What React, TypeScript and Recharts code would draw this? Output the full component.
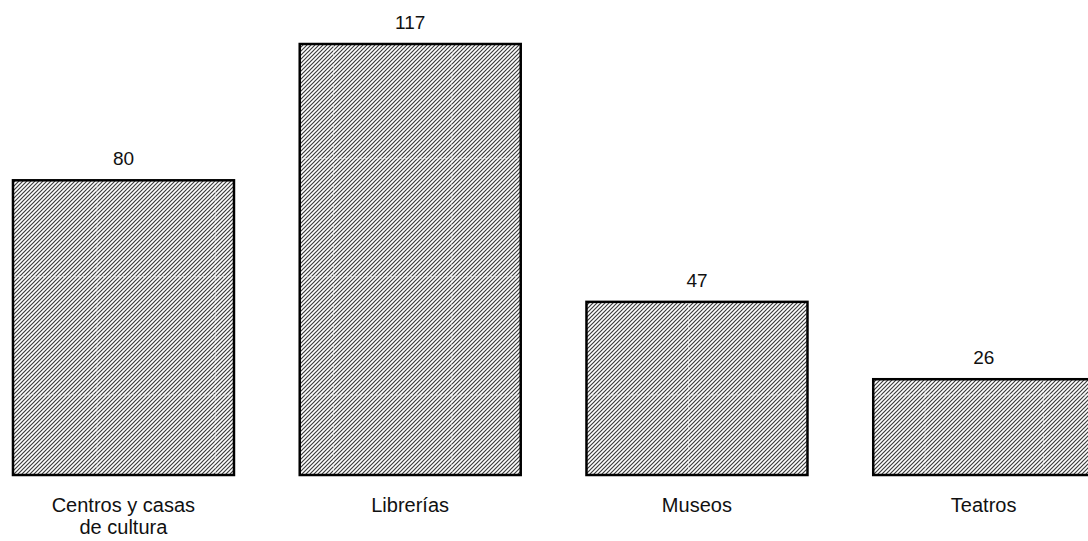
import { BarChart, Bar, XAxis, YAxis, LabelList } from 'recharts';

const categories = ['Centros y casas de cultura', 'Librerías', 'Museos', 'Teatros'];
const counts = [80, 117, 47, 26];

const data = categories.map((name, i) => ({ name, value: counts[i] }));

const FONT = 'Liberation Sans, Arial, sans-serif';

function wrap(label: string, maxChars = 16): string[] {
  const lines: string[] = [];
  let cur = '';
  for (const w of label.split(' ')) {
    const next = cur ? cur + ' ' + w : w;
    if (next.length > maxChars && cur) {
      lines.push(cur);
      cur = w;
    } else {
      cur = next;
    }
  }
  if (cur) lines.push(cur);
  return lines;
}

function CategoryTick({ x, y, payload }: { x?: number; y?: number; payload?: { value: string } }) {
  const lines = wrap(payload?.value ?? '');
  return (
    <text x={x} y={(y ?? 0) + 37} textAnchor="middle" fontSize={20} fontFamily={FONT} fill="#111">
      {lines.map((l, i) => (
        <tspan key={i} x={x} dy={i === 0 ? 0 : 22}>
          {l}
        </tspan>
      ))}
    </text>
  );
}

// background grid (white dashed, shows through the hatching), square ~118px cells
const GRID_STEP = 118.3;
const GRID_X0 = 117;
const GRID_Y0 = 395;

function HatchedBar(props: { x?: number; y?: number; width?: number; height?: number }) {
  const { x = 0, y = 0, width = 0, height = 0 } = props;
  const vs: number[] = [];
  for (let gx = GRID_X0; gx < x + width; gx += GRID_STEP) if (gx > x + 2) vs.push(gx);
  const hs: number[] = [];
  for (let gy = GRID_Y0; gy > y; gy -= GRID_STEP) if (gy < y + height - 2 && gy > y + 2) hs.push(gy);
  return (
    <g>
      <rect x={x} y={y} width={width} height={height} fill="url(#hatch)" />
      {vs.map((gx) => (
        <line key={'v' + gx} x1={gx} x2={gx} y1={y} y2={y + height} stroke="#fff" strokeOpacity={0.6} strokeWidth={1} strokeDasharray="3 2" />
      ))}
      {hs.map((gy) => (
        <line key={'h' + gy} x1={x} x2={x + width} y1={gy} y2={gy} stroke="#fff" strokeOpacity={0.6} strokeWidth={1} strokeDasharray="3 2" />
      ))}
      <rect x={x} y={y} width={width} height={height} fill="none" stroke="#000" strokeWidth={2.5} />
    </g>
  );
}

export default function App() {
  return (
    <div style={{ position: 'absolute', left: 0, top: 0, width: 1088, height: 541, overflow: 'hidden', background: '#fff' }}>
      <div style={{ position: 'absolute', left: -20, top: 0 }}>
        <BarChart
          width={1147}
          height={541}
          data={data}
          margin={{ top: 44, right: 0, bottom: 0, left: 0 }}
          barCategoryGap="11.5%"
        >
          <defs>
            <pattern id="hatch" patternUnits="userSpaceOnUse" width={4} height={4}>
              <rect width={4} height={4} fill="#fff" />
              <path d="M-1,1 l2,-2 M0,4 l4,-4 M3,5 l2,-2" stroke="#3c3c3c" strokeWidth={1.2} />
            </pattern>
          </defs>
          <XAxis
            dataKey="name"
            interval={0}
            axisLine={false}
            tickLine={false}
            tickSize={0}
            tickMargin={0}
            height={66}
            tick={<CategoryTick />}
          />
          <YAxis hide domain={[0, 117]} />
          <Bar dataKey="value" shape={<HatchedBar />} isAnimationActive={false}>
            <LabelList dataKey="value" position="top" offset={15} fontSize={19} fontFamily={FONT} fill="#111" />
          </Bar>
        </BarChart>
      </div>
    </div>
  );
}
